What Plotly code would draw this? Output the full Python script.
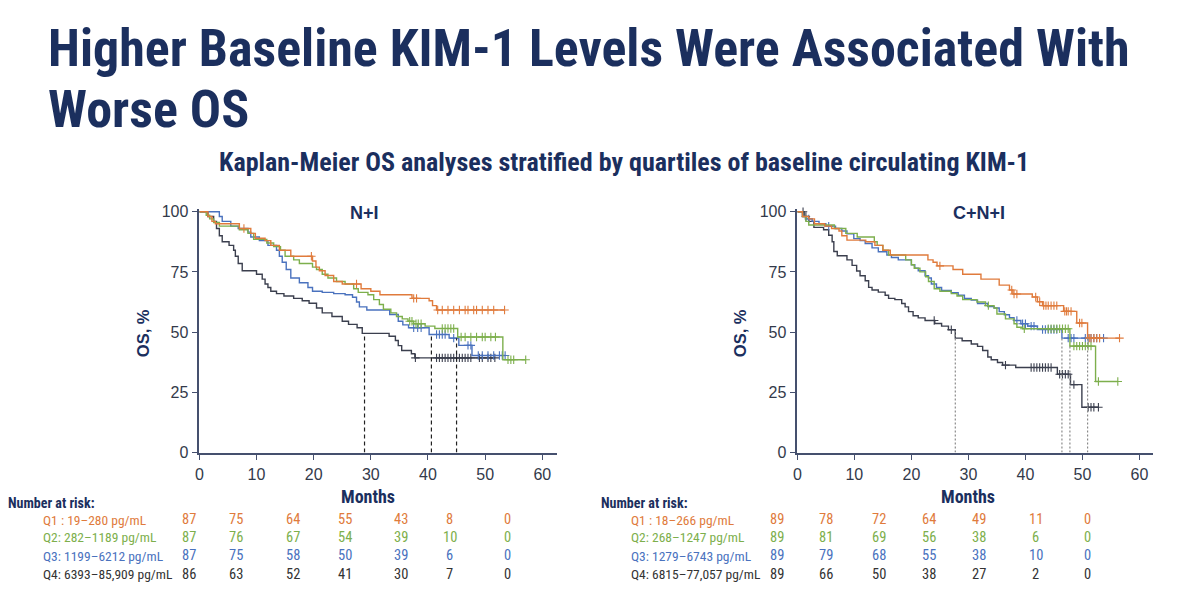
import plotly.graph_objects as go

# ---------------- DATA ----------------
month_ticks = [0, 10, 20, 30, 40, 50, 60]
os_ticks = [0, 25, 50, 75, 100]

# N+I panel: Kaplan-Meier step points (time in months, OS %)
ni_q1_t = [0, 1.5, 2.2, 2.8, 7.0, 9.0, 9.8, 11.5, 12.5, 14.0, 16.0, 19.8, 20.4, 21.0, 22.0, 23.5, 25.0, 28.3, 30.0, 31.6, 37.2, 40.2, 40.8, 41.5, 53.4]
ni_q1_s = [100, 98, 96, 95, 93, 91, 89, 88, 86, 84, 81.5, 79.5, 77, 75.5, 73.5, 71, 70, 68, 67, 65.5, 64, 63, 61, 59.2, 59.2]
ni_q1_c = [7.8, 19.6, 27.5, 37.5, 38.0, 41.7, 42.5, 43.5, 44.5, 45.5, 46.5, 47.0, 48.0, 48.5, 49.5, 50.5, 51.5, 53.4]

ni_q2_t = [0, 1.2, 1.8, 2.5, 3.5, 7.0, 8.5, 9.5, 11.8, 13.0, 14.2, 15.0, 16.5, 17.5, 19.8, 20.5, 21.5, 22.5, 24.0, 25.5, 27.0, 27.8, 29.5, 30.5, 31.5, 32.2, 33.5, 34.5, 35.5, 36.5, 37.5, 39.5, 41.2, 45.2, 53.1, 57.1]
ni_q2_s = [100, 98.5, 97, 95.5, 94, 92.5, 91, 88.5, 87, 85.5, 84, 81.5, 80, 78.5, 77, 76, 74, 72.5, 71, 70, 68, 66.5, 65.5, 63.5, 61.5, 59.5, 58, 56.5, 55.5, 54.5, 53.5, 52.5, 51.5, 48, 38.5, 38.5]
ni_q2_c = [36.8, 37.2, 37.9, 38.3, 38.8, 42.5, 43.0, 43.5, 44.0, 44.5, 45.8, 46.5, 47.5, 48.5, 49.5, 50.0, 51.0, 51.8, 54.0, 54.5, 55.0, 57.1]

ni_q3_t = [0, 3.5, 4.0, 5.5, 6.8, 8.5, 9.0, 10.5, 12.0, 13.5, 14.0, 14.5, 15.2, 16.0, 17.5, 19.0, 19.8, 21.5, 23.5, 25.5, 26.8, 27.5, 28.0, 29.3, 33.3, 34.8, 35.6, 36.6, 40.2, 43.7, 45.4, 47.7, 53.5]
ni_q3_s = [100, 98, 96, 94, 93, 91.5, 89.5, 88, 86, 84, 81.5, 79, 76, 72.5, 70.5, 68.5, 67, 66.5, 66, 65.5, 64.5, 62.5, 60.5, 59.2, 57.3, 54.5, 53, 51.8, 49, 47.5, 44.5, 40.3, 40.3]
ni_q3_c = [37.5, 38.2, 38.8, 41.5, 42.0, 42.5, 43.0, 44.5, 47.0, 47.5, 48.8, 49.5, 50.5, 51.5, 52.5, 53.0, 53.5]

ni_q4_t = [0, 1.5, 2.5, 3.0, 3.5, 4.0, 5.2, 6.0, 6.3, 6.8, 7.5, 10.0, 11.0, 11.5, 12.0, 12.5, 13.5, 14.8, 16.5, 18.0, 19.2, 20.5, 21.5, 23.2, 25.0, 26.1, 27.6, 28.5, 33.2, 34.3, 34.8, 35.4, 37.1, 37.7, 51.7]
ni_q4_s = [100, 98, 96, 93, 90, 87.5, 86, 84, 81.5, 78.5, 75.5, 74, 72, 70, 68.5, 67, 66, 65, 64, 63, 62, 60, 58, 56.5, 54.5, 53.2, 51.8, 49.5, 48.3, 46.5, 44.4, 42.4, 41, 39.3, 39.3]
ni_q4_c = [37.8, 41.5, 42.0, 42.5, 43.0, 43.5, 44.0, 44.5, 45.0, 45.5, 46.0, 46.5, 47.0, 47.5, 49.0, 49.5, 50.5, 51.0, 51.7]

ni_median_t = [28.9, 40.6, 45.0]
ni_median_top = [49.5, 49.0, 47.5]

# C+N+I panel
cni_q1_t = [0, 0.9, 2.0, 3.0, 4.8, 6.0, 7.3, 7.8, 8.7, 12.0, 13.6, 15.0, 16.3, 22.9, 23.8, 24.5, 27.3, 29.0, 32.2, 35.4, 37.2, 37.8, 41.2, 42.1, 43.0, 46.7, 49.0, 50.9, 56.5]
cni_q1_s = [100, 98, 97, 95, 94, 93, 92, 90, 88.2, 87.5, 86, 84, 82, 80, 79, 77.5, 76, 74, 72, 69.5, 67.5, 65.8, 64.6, 62.6, 61, 58.6, 53.8, 47.5, 47.5]
cni_q1_c = [25.0, 37.6, 38.0, 38.5, 41.8, 42.5, 43.2, 43.6, 44.0, 44.5, 45.0, 45.5, 46.9, 47.2, 47.5, 48.0, 49.5, 49.9, 51.2, 51.5, 52.0, 52.5, 53.0, 56.5]

cni_q2_t = [0, 0.9, 1.5, 2.0, 6.5, 8.5, 10.5, 13.5, 14.0, 15.0, 16.0, 19.0, 20.0, 20.5, 21.5, 22.5, 23.0, 24.0, 25.0, 27.0, 28.0, 29.0, 31.5, 33.0, 34.5, 35.0, 36.5, 38.0, 38.5, 39.5, 47.8, 52.3, 56.2]
cni_q2_s = [100, 98, 96, 94.5, 93, 91, 89.5, 87.5, 86, 84, 82, 80, 78, 76.5, 75, 73, 71, 68, 67, 66, 65, 63.5, 62.5, 61, 60, 57.5, 55.5, 53.5, 52, 51.4, 44.2, 29.5, 29.5]
cni_q2_c = [33.5, 39.8, 44.0, 44.5, 45.0, 45.5, 46.0, 46.5, 47.0, 47.5, 48.5, 49.0, 49.5, 50.0, 50.5, 51.0, 51.5, 52.8, 56.2]

cni_q3_t = [0, 0.9, 1.5, 2.6, 3.8, 5.0, 6.7, 7.8, 8.7, 9.9, 11.0, 11.9, 13.1, 14.2, 15.7, 16.5, 17.7, 20.0, 20.6, 21.2, 22.4, 23.0, 23.5, 24.4, 25.3, 27.0, 28.2, 29.3, 30.5, 31.6, 33.4, 34.5, 35.4, 36.3, 37.2, 38.0, 39.2, 40.4, 42.1, 46.4, 53.7]
cni_q3_s = [100, 98, 97, 96, 95, 94, 93, 92, 90.8, 88.8, 88, 86.8, 85, 83.4, 82, 81, 80, 78, 76.5, 75.5, 73.4, 72.5, 70, 68.6, 67.3, 66.4, 65.3, 64, 63.3, 61.9, 60.6, 60, 58.5, 57.2, 56, 54.8, 53.5, 52.5, 51.1, 47.5, 47.5]
cni_q3_c = [2.0, 5.5, 38.5, 39.5, 40.0, 41.0, 41.5, 43.0, 43.5, 44.0, 44.5, 45.0, 45.5, 47.5, 48.0, 48.5, 50.5, 51.0, 51.5, 52.0, 52.5, 53.0, 53.7]

cni_q4_t = [0, 1.2, 2.0, 2.9, 4.6, 5.5, 6.1, 6.4, 7.0, 8.7, 9.6, 10.4, 11.0, 11.9, 12.5, 13.1, 14.2, 15.4, 16.0, 17.1, 18.3, 18.9, 19.5, 20.3, 21.2, 22.4, 24.1, 25.3, 26.5, 27.7, 28.9, 30.5, 31.6, 32.5, 33.4, 34.0, 35.1, 36.0, 38.3, 45.6, 47.9, 49.9, 52.8]
cni_q4_s = [100, 98, 96, 93.5, 92.5, 90.2, 87.5, 83.5, 81.7, 80, 77.7, 75.4, 73.4, 71.3, 68.6, 67.5, 66.6, 65.3, 64, 63.5, 61.9, 60.5, 58.5, 56.8, 55.9, 54.8, 53.6, 52.5, 51, 47.5, 46.4, 45.1, 44.1, 42.4, 39.7, 38.5, 37.4, 36.3, 35.3, 32.5, 28.2, 18.8, 18.8]
cni_q4_c = [1.0, 1.5, 24.0, 27.0, 36.5, 41.0, 41.5, 42.0, 42.5, 43.0, 43.5, 44.0, 44.5, 46.0, 46.5, 47.0, 47.5, 48.5, 51.0, 51.5, 52.0, 52.8]

cni_median_t = [27.7, 46.4, 47.8, 50.9]
cni_median_top = [50.5, 47.5, 44.2, 47.5]

# Number at risk tables
risk_label = "Number at risk:"
ni_labels = ["Q1 : 19–280 pg/mL", "Q2: 282–1189 pg/mL", "Q3: 1199–6212 pg/mL", "Q4: 6393–85,909 pg/mL"]
ni_risk = [
    [87, 75, 64, 55, 43, 8, 0],
    [87, 76, 67, 54, 39, 10, 0],
    [87, 75, 58, 50, 39, 6, 0],
    [86, 63, 52, 41, 30, 7, 0],
]
cni_labels = ["Q1 : 18–266 pg/mL", "Q2: 268–1247 pg/mL", "Q3: 1279–6743 pg/mL", "Q4: 6815–77,057 pg/mL"]
cni_risk = [
    [89, 78, 72, 64, 49, 11, 0],
    [89, 81, 69, 56, 38, 6, 0],
    [89, 79, 68, 55, 38, 10, 0],
    [89, 66, 50, 38, 27, 2, 0],
]

title_line1 = "Higher Baseline KIM-1 Levels Were Associated With"
title_line2 = "Worse OS"
subtitle = "Kaplan-Meier OS analyses stratified by quartiles of baseline circulating KIM-1"
panel_titles = ["N+I", "C+N+I"]

# ---------------- STYLE ----------------
W, H = 1200, 600
colors = ["#E07B3C", "#7DAF4C", "#4A72BE", "#3B3F4E"]
navy = "#1B2F5E"
axis_col = "#45506E"
tick_col = "#333A4A"
NARROW = "Roboto Condensed, Liberation Sans Narrow, Arial Narrow, sans-serif"
SANS = "Liberation Sans, Arial, sans-serif"


def px(x):
    return x / W


def py(y):
    return 1 - y / H


def step_at(ts, ss, t):
    v = ss[0]
    for ti, si in zip(ts, ss):
        if ti <= t:
            v = si
    return v


fig = go.Figure()

panels = [
    dict(xa="x", ya="y",
         curves=[(ni_q1_t, ni_q1_s, ni_q1_c), (ni_q2_t, ni_q2_s, ni_q2_c),
                 (ni_q3_t, ni_q3_s, ni_q3_c), (ni_q4_t, ni_q4_s, ni_q4_c)],
         med=(ni_median_t, ni_median_top), dash="4px,3px", dcol="#222222"),
    dict(xa="x2", ya="y2",
         curves=[(cni_q1_t, cni_q1_s, cni_q1_c), (cni_q2_t, cni_q2_s, cni_q2_c),
                 (cni_q3_t, cni_q3_s, cni_q3_c), (cni_q4_t, cni_q4_s, cni_q4_c)],
         med=(cni_median_t, cni_median_top), dash="2px,2px", dcol="#8A8A8A"),
]

shapes = []
for p in panels:
    for (mt, mtop) in zip(*p["med"]):
        shapes.append(dict(type="line", xref=p["xa"], yref=p["ya"], x0=mt, x1=mt, y0=0, y1=mtop,
                           line=dict(color=p["dcol"], width=1.2, dash=p["dash"])))
    for i in [3, 2, 1, 0]:
        t, s, c = p["curves"][i]
        fig.add_trace(go.Scatter(x=t, y=s, mode="lines", line=dict(color=colors[i], width=1.4, shape="hv"),
                                 xaxis=p["xa"], yaxis=p["ya"], showlegend=False, hoverinfo="skip"))
        fig.add_trace(go.Scatter(x=c, y=[step_at(t, s, ci) for ci in c], mode="markers",
                                 marker=dict(symbol="cross-thin", size=6, line=dict(color=colors[i], width=1.1)),
                                 xaxis=p["xa"], yaxis=p["ya"], showlegend=False, hoverinfo="skip",
                                 cliponaxis=False))

ax_common = dict(showgrid=False, zeroline=False, showline=True, linecolor=axis_col, linewidth=1.5,
                 ticks="outside", ticklen=6, tickwidth=1.3, tickcolor=axis_col,
                 tickfont=dict(family=SANS, size=16, color=tick_col))
y_dom = [py(458), py(208.5)]
fig.update_layout(
    width=W, height=H, margin=dict(l=0, r=0, t=0, b=0),
    paper_bgcolor="white", plot_bgcolor="white",
    xaxis=dict(domain=[px(196), px(555)], range=[0, 62.6], tickvals=month_ticks, anchor="y", **ax_common),
    yaxis=dict(domain=y_dom, range=[0, 101], tickvals=os_ticks, anchor="x", **ax_common),
    xaxis2=dict(domain=[px(796), px(1153)], range=[0, 62.4], tickvals=month_ticks, anchor="y2", **ax_common),
    yaxis2=dict(domain=y_dom, range=[0, 101], tickvals=os_ticks, anchor="x2", **ax_common),
    shapes=shapes,
)

ann = []


def add_text(x, y, text, size, color, family=SANS, bold=False, xanchor="center", angle=0):
    t = f"<b>{text}</b>" if bold else text
    ann.append(dict(x=px(x), y=py(y), xref="paper", yref="paper", text=t, showarrow=False,
                    xanchor=xanchor, yanchor="middle", textangle=angle,
                    font=dict(family=family, size=size, color=color)))


add_text(42, 44, title_line1, 52, navy, NARROW, True, "left")
add_text(42, 106, title_line2, 52, navy, NARROW, True, "left")
add_text(622, 160, subtitle, 26, navy, NARROW, True)

add_text(362, 212, panel_titles[0], 18, navy, SANS, True)
add_text(978, 212, panel_titles[1], 18, navy, SANS, True)
add_text(139, 336, "OS, %", 16.5, navy, SANS, True, angle=-90)
add_text(738, 336, "OS, %", 16.5, navy, SANS, True, angle=-90)
add_text(365, 503, "Months", 18, navy, NARROW, True)
add_text(967, 503, "Months", 18, navy, NARROW, True)

row_y = [527, 545, 564, 583]
tables = [
    dict(hx=2, lx=37, cols=[186, 233, 290, 342, 398, 447, 505], labels=ni_labels, risk=ni_risk),
    dict(hx=597, lx=627, cols=[776, 825, 878, 928, 978, 1035, 1087], labels=cni_labels, risk=cni_risk),
]
for tb in tables:
    add_text(tb["hx"], 510, risk_label, 14, navy, NARROW, True, "left")
    for r in range(4):
        col = colors[r] if r < 3 else "#333333"
        add_text(tb["lx"], row_y[r], tb["labels"][r], 13.5, col, NARROW, False, "left")
        for cx, v in zip(tb["cols"], tb["risk"][r]):
            add_text(cx, row_y[r], str(v), 14.5, col, NARROW, False)

fig.update_layout(annotations=ann)
fig.write_html("out.html")
